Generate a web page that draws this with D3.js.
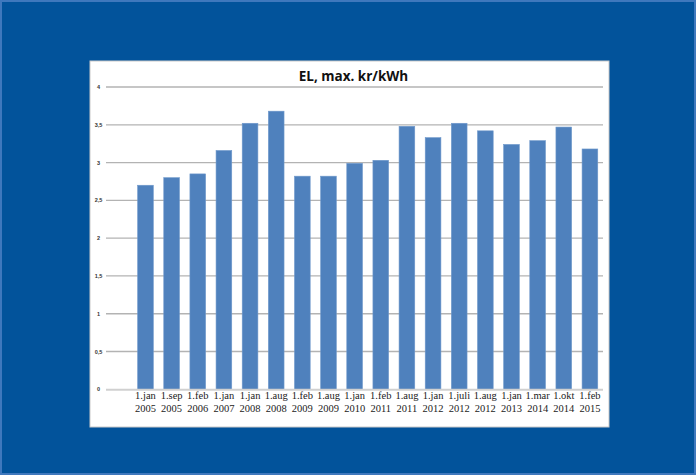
<!DOCTYPE html>
<html>
<head>
<meta charset="utf-8">
<script src="https://cdn.jsdelivr.net/npm/d3@7"></script>
<style>
  html, body { margin: 0; padding: 0; background: #02539b; }
  svg { display: block; }
</style>
</head>
<body>
<div id="chart"></div>
<script>
// data
const dates = ["1.jan", "1.sep", "1.feb", "1.jan", "1.jan", "1.aug", "1.feb", "1.aug", "1.jan",
  "1.feb", "1.aug", "1.jan", "1.juli", "1.aug", "1.jan", "1.mar", "1.okt", "1.feb"];
const years = ["2005", "2005", "2006", "2007", "2008", "2008", "2009", "2009", "2010",
  "2011", "2011", "2012", "2012", "2012", "2013", "2014", "2014", "2015"];
const prices = [2.70, 2.80, 2.85, 3.16, 3.52, 3.68, 2.82, 2.82, 2.99,
  3.03, 3.48, 3.33, 3.52, 3.42, 3.24, 3.29, 3.47, 3.18];
const yTicks = [0, 0.5, 1, 1.5, 2, 2.5, 3, 3.5, 4];

const W = 696, H = 475;
const panel = { x: 90, y: 61, w: 519, h: 366 };
const plot = { left: 106, band0: 132.4, right: 603, top: 87, bottom: 389.3 };

const svg = d3.select("#chart").append("svg")
    .attr("width", W)
    .attr("height", H);

// blue backdrop with a lighter rim
svg.append("rect")
    .attr("x", 1).attr("y", 1)
    .attr("width", W - 2).attr("height", H - 2)
    .attr("fill", "#02539b")
    .attr("stroke", "#3f78bd")
    .attr("stroke-width", 2);

// white chart panel
svg.append("rect")
    .attr("x", panel.x).attr("y", panel.y)
    .attr("width", panel.w).attr("height", panel.h)
    .attr("fill", "#fff")
    .attr("stroke", "#c9c9c9")
    .attr("stroke-width", 1);

const idx = d3.range(prices.length);

const x = d3.scaleBand()
    .domain(idx)
    .range([plot.band0, plot.right])
    .paddingInner(0.4)
    .paddingOuter(0.2);

const y = d3.scaleLinear()
    .domain([0, 4])
    .range([plot.bottom, plot.top]);

// grid lines
svg.append("g")
    .selectAll("line")
    .data(yTicks.filter(d => d > 0))
    .join("line")
    .attr("x1", plot.left).attr("x2", plot.right)
    .attr("y1", d => y(d)).attr("y2", d => y(d))
    .attr("stroke", "#b3b3b3")
    .attr("stroke-width", 1.3);

// y tick labels
svg.append("g")
    .selectAll("text")
    .data(yTicks)
    .join("text")
    .attr("x", 98.5)
    .attr("y", d => y(d) + 2)
    .attr("text-anchor", "middle")
    .attr("font-family", "Liberation Sans, Arial, sans-serif")
    .attr("font-weight", "bold")
    .attr("font-size", "5.5px")
    .attr("fill", "#333")
    .text(d => d3.format("")(d).replace(".", ","));

// bars
svg.append("g")
    .selectAll("rect")
    .data(idx)
    .join("rect")
    .attr("x", i => x(i))
    .attr("y", i => y(prices[i]))
    .attr("width", x.bandwidth())
    .attr("height", i => y(0) - y(prices[i]))
    .attr("fill", "#4f81bd")
    .attr("stroke", "#6f98cb")
    .attr("stroke-width", 0.6);

// zero axis line
svg.append("line")
    .attr("x1", plot.left).attr("x2", plot.right)
    .attr("y1", y(0) + 0.5).attr("y2", y(0) + 0.5)
    .attr("stroke", "#d0d0d0")
    .attr("stroke-width", 2);

// category labels, two lines
const lbl = svg.append("g")
    .attr("font-family", "Liberation Serif, Times New Roman, serif")
    .attr("font-size", "10.5px")
    .attr("fill", "#222")
    .attr("text-anchor", "middle");

lbl.selectAll("text.d")
    .data(idx)
    .join("text")
    .attr("class", "d")
    .attr("x", i => x(i) + x.bandwidth() / 2)
    .attr("y", 398.7)
    .text(i => dates[i]);

lbl.selectAll("text.yr")
    .data(idx)
    .join("text")
    .attr("class", "yr")
    .attr("x", i => x(i) + x.bandwidth() / 2)
    .attr("y", 411.7)
    .text(i => years[i]);

// title
svg.append("text")
    .attr("x", 353.5)
    .attr("y", 80.7)
    .attr("text-anchor", "middle")
    .attr("font-family", "Open Sans, Liberation Sans, sans-serif")
    .attr("font-weight", "bold")
    .attr("font-size", "13.5px")
    .attr("fill", "#111")
    .text("EL, max. kr/kWh");
</script>
</body>
</html>
